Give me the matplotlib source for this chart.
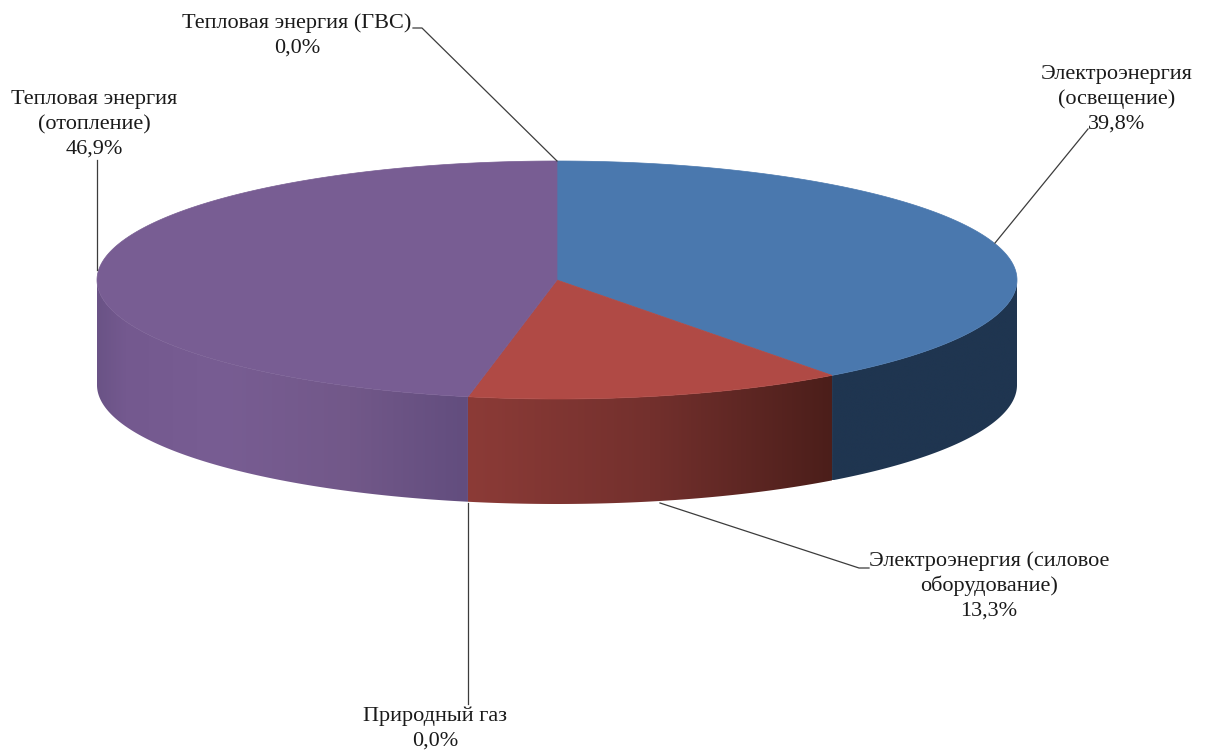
from __future__ import annotations

import matplotlib
matplotlib.use("Agg")
import matplotlib.pyplot as plt
import numpy as np
from matplotlib.patches import Polygon

plt.rcParams["font.family"] = ["Liberation Serif", "DejaVu Serif"]

labels = [
    ["Электроэнергия", "(освещение)", "39,8%"],
    ["Электроэнергия (силовое", "оборудование)", "13,3%"],
    ["Природный газ", "0,0%"],
    ["Тепловая энергия", "(отопление)", "46,9%"],
    ["Тепловая энергия (ГВС)", "0,0%"],
]
values = [39.8, 13.3, 0.0, 46.9, 0.0]

CX, CY = 557, 280
RX, RY = 460, 119
DEPTH = 105
LINE_STEP = 25

top_colors = ["#4A78AE", "#B04A45", "#8FA958", "#785D93", "#4198AF"]
# side shading, colour stops against x pixel
side_stops = {
    0: [(832, "#1F3550"), (1017, "#1F3550")],
    1: [(468, "#8C3B37"), (650, "#73302D"), (832, "#4B1E1A")],
    3: [(97, "#6A5386"), (125, "#74598F"), (220, "#785D93"), (350, "#725889"), (468, "#624D7E")],
}

# x centre and first baseline of each label
label_pos = [(1117, 79), (989, 566), (435, 721), (94, 104), (297, 28)]
leaders = [
    [(995, 243), (1088, 129)],
    [(660, 503), (859, 568), (869, 568)],
    [(468, 503), (468, 704)],
    [(97, 270), (97, 160)],
    [(557, 161), (422, 28), (413, 28)],
]


def ellipse_xy(angle):
    return CX + RX * np.sin(angle), CY - RY * np.cos(angle)


def hex_rgb(color):
    return np.array(matplotlib.colors.to_rgb(color))


def side_gradient(stops, xs):
    stop_x = [s[0] for s in stops]
    rgb = np.array([hex_rgb(s[1]) for s in stops])
    return np.stack([np.interp(xs, stop_x, rgb[:, i]) for i in range(3)], axis=-1)


fig = plt.figure(figsize=(12.06, 7.51), dpi=100)
ax = fig.add_axes([0, 0, 1, 1])

edges = np.cumsum([0] + values) / sum(values) * 2 * np.pi

# outer wall, only the front half of the disc shows
for i, (start, stop) in enumerate(zip(edges[:-1], edges[1:])):
    if stop <= start or i not in side_stops:
        continue
    lo, hi = max(start, np.pi / 2), min(stop, 3 * np.pi / 2)
    if hi <= lo:
        continue
    xs, ys = ellipse_xy(np.linspace(lo, hi, 300))
    outline = np.r_[np.c_[xs, ys], np.c_[xs[::-1], ys[::-1] + DEPTH]]
    left, right = xs.min(), xs.max()
    top, bottom = ys.min(), ys.max() + DEPTH
    strip = side_gradient(side_stops[i], np.linspace(left, right, 400))[np.newaxis, :, :]
    image = ax.imshow(strip, extent=(left, right, bottom, top), aspect="auto",
                      interpolation="bilinear", zorder=2)
    clip = Polygon(outline, closed=True, transform=ax.transData, facecolor="none", edgecolor="none")
    ax.add_patch(clip)
    image.set_clip_path(clip)

# top face
for i, (start, stop) in enumerate(zip(edges[:-1], edges[1:])):
    if stop <= start:
        continue
    angles = np.linspace(start, stop, 200)
    xs, ys = ellipse_xy(angles)
    ax.fill(np.r_[CX, xs], np.r_[CY, ys], facecolor=top_colors[i],
            edgecolor=top_colors[i], linewidth=0.5, zorder=3)

for line in leaders:
    ax.plot(*zip(*line), color="#3C3C3C", linewidth=0.9, zorder=4)

for lines, (x, y) in zip(labels, label_pos):
    for n, text in enumerate(lines):
        ax.text(x, y + n * LINE_STEP, text, ha="center", va="baseline", fontsize=16,
                color="#1A1A1A", zorder=5)

ax.set_xlim(0, 1206)
ax.set_ylim(751, 0)
ax.axis("off")

fig.savefig("out.png", dpi=100)
plt.close(fig)
